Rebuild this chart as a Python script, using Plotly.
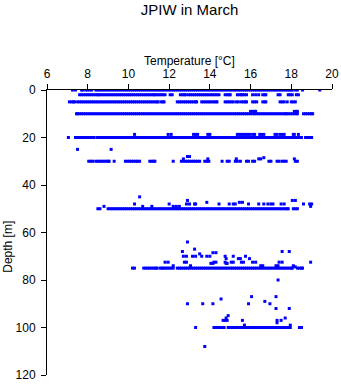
import plotly.graph_objects as go

# Temperatures (°C) observed along each standard depth level (m)
t_0m = [7.25, 7.4, 7.7, 7.75, 7.9, 8.0, 8.1, 8.2,
        8.4, 8.5, 8.6, 8.7, 8.8, 8.9, 9.0, 9.1, 9.2, 9.3, 9.4, 9.5, 9.6, 9.7, 9.8, 9.9,
        10.0, 10.1, 10.2, 10.3, 10.4, 10.5, 10.6, 10.7, 10.8, 10.9,
        11.0, 11.1, 11.2, 11.3, 11.4, 11.5, 11.6, 11.7, 11.8, 11.9,
        12.0, 12.1, 12.2, 12.3, 12.4, 12.5, 12.6, 12.7, 12.8, 12.9,
        13.0, 13.1, 13.2, 13.3, 13.4, 13.5, 13.6, 13.7, 13.8, 13.9,
        14.0, 14.1, 14.2, 14.3, 14.4, 14.5, 14.6, 14.7, 14.8, 14.9,
        15.0, 15.1, 15.2, 15.3, 15.4, 15.5, 15.6, 15.7, 15.8, 15.9,
        16.0, 16.1, 16.2, 16.3, 16.4, 16.5, 16.6, 16.7, 16.8, 16.9,
        17.0, 17.1, 17.2, 17.3, 17.4, 17.5, 17.6, 17.7, 17.8, 17.9,
        18.0, 18.05, 18.2, 18.3, 18.55, 19.4]

t_2m = [7.6, 7.7, 7.8, 7.9, 8.0, 8.1, 8.2, 8.3, 8.4, 8.5, 8.55,
        8.65, 8.75, 8.85, 8.95, 9.05, 9.15, 9.25, 9.35, 9.45, 9.55, 9.65, 9.75, 9.85, 9.95,
        10.05, 10.15, 10.25, 10.35, 10.45, 10.55, 10.65, 10.75, 10.85, 10.95,
        11.05, 11.15, 11.25, 11.3, 11.4, 11.5, 11.6, 11.7, 11.8, 12.05, 12.15,
        12.55, 12.65, 12.75, 12.8, 12.95, 13.05, 13.15, 13.25, 13.35, 13.45, 13.55, 13.65,
        13.75, 13.85, 13.95, 14.05, 14.15, 14.25, 14.35, 14.45, 14.75, 14.85, 14.95, 15.0,
        15.35, 15.45, 15.55, 15.6, 15.7, 15.8, 16.1, 16.25, 16.4, 16.6, 16.7, 16.75,
        17.35, 17.45, 17.85, 17.95, 18.05, 18.25, 18.35]

t_5m = [7.1, 7.2, 7.3, 7.35, 7.5, 7.6, 7.7, 7.8, 7.9,
        8.0, 8.1, 8.2, 8.3, 8.4, 8.5, 8.6, 8.7, 8.8, 8.9,
        9.0, 9.1, 9.2, 9.3, 9.4, 9.5, 9.6, 9.7, 9.8, 9.9,
        10.0, 10.1, 10.2, 10.3, 10.4, 10.5, 10.6, 10.7, 10.8, 10.9,
        11.0, 11.1, 11.2, 11.3, 11.4, 11.45, 11.6, 11.7, 11.75,
        12.4, 12.5, 12.6, 12.7, 12.8, 12.9, 13.0, 13.1, 13.2, 13.3, 13.35,
        13.6, 13.7, 13.8, 13.9, 14.0, 14.1, 14.2, 14.3, 14.35,
        14.75, 14.85, 14.95, 15.05, 15.15, 15.3, 15.4, 15.55, 15.65, 15.75, 15.8,
        16.1, 16.2, 16.3, 16.6, 16.7, 16.75, 17.45, 17.55, 17.65, 17.8,
        18.0, 18.1, 18.2]

t_10m = [7.45, 7.5, 7.6, 7.7, 7.8, 7.9,
         8.0, 8.1, 8.2, 8.3, 8.4, 8.5, 8.6, 8.7, 8.8, 8.9,
         9.0, 9.1, 9.2, 9.3, 9.4, 9.5, 9.6, 9.7, 9.8, 9.9,
         10.0, 10.1, 10.2, 10.3, 10.4, 10.5, 10.6, 10.7, 10.8, 10.9,
         11.0, 11.1, 11.2, 11.3, 11.4, 11.5, 11.6, 11.7, 11.8, 11.9,
         12.0, 12.1, 12.2, 12.3, 12.4, 12.5, 12.6, 12.7, 12.8, 12.9,
         13.0, 13.1, 13.2, 13.3, 13.4, 13.5, 13.6, 13.7, 13.8, 13.9,
         14.0, 14.1, 14.2, 14.3, 14.4, 14.5, 14.6, 14.7, 14.8, 14.9,
         15.0, 15.1, 15.2, 15.3, 15.4, 15.5, 15.6, 15.7, 15.8, 15.9,
         16.0, 16.1, 16.2, 16.3, 16.4, 16.5, 16.6, 16.7, 16.8, 16.9,
         17.0, 17.1, 17.2, 17.3, 17.4, 17.5, 17.6, 17.7, 17.75,
         17.85, 17.95, 18.05, 18.15, 18.25, 18.3, 18.6, 18.7, 18.8, 18.9, 19.0, 19.05]

t_20m = [7.05, 7.4, 7.5, 7.6, 7.7, 7.8, 7.9, 8.0, 8.1, 8.2, 8.3,
         8.45, 8.5, 8.6, 8.7, 8.8, 8.9,
         9.0, 9.1, 9.2, 9.3, 9.4, 9.5, 9.6, 9.7, 9.8, 9.9,
         10.0, 10.1, 10.2, 10.3, 10.4, 10.5, 10.6, 10.7, 10.8, 10.9,
         11.0, 11.1, 11.2, 11.3, 11.4, 11.5, 11.6, 11.7, 11.8, 11.9,
         12.0, 12.1, 12.2, 12.3, 12.4, 12.5, 12.6, 12.7, 12.8, 12.9,
         13.0, 13.1, 13.2, 13.3, 13.4, 13.5, 13.6, 13.7, 13.8, 13.9,
         14.0, 14.1, 14.2, 14.3, 14.4, 14.5, 14.6, 14.7, 14.8, 14.9,
         15.0, 15.1, 15.2, 15.3, 15.4, 15.5, 15.6, 15.7, 15.8, 15.9,
         16.0, 16.1, 16.2, 16.3, 16.4, 16.5, 16.6, 16.7, 16.8, 16.9,
         17.0, 17.1, 17.2, 17.3, 17.4, 17.5, 17.6, 17.7, 17.8, 17.9,
         18.0, 18.1, 18.2, 18.3, 18.4, 18.5, 18.7, 18.8, 18.9, 19.0]

t_25m = [7.5, 9.15]

t_30m = [8.05, 8.15, 8.25, 8.4, 8.5, 8.6, 8.7, 8.8, 8.9, 9.0, 9.05, 9.3,
         9.85, 9.95, 10.05, 10.15, 10.25, 10.35, 10.45, 10.55, 11.05, 11.15, 11.25, 11.3,
         12.2, 12.6, 12.7, 12.8, 12.9, 13.0, 13.1, 13.2, 13.3, 13.4, 13.5,
         13.75, 13.85, 13.95, 14.6, 14.85, 14.95, 15.25, 15.35, 15.5, 15.8, 15.9,
         16.1, 16.2, 16.9, 17.0, 17.3, 17.4, 17.55, 17.65, 17.75, 18.2, 18.3]

t_50m = [8.5, 8.6, 9.0, 9.1, 9.2, 9.3, 9.4, 9.5, 9.6, 9.7, 9.8, 9.9,
         10.0, 10.1, 10.2, 10.3, 10.4, 10.5, 10.6, 10.7, 10.8, 10.9,
         11.0, 11.1, 11.2, 11.3, 11.4, 11.5, 11.6, 11.7, 11.8, 11.9,
         12.0, 12.1, 12.2, 12.3, 12.4, 12.5, 12.6, 12.7, 12.8, 12.9,
         13.0, 13.1, 13.2, 13.3, 13.4, 13.5, 13.6, 13.7, 13.8, 13.9,
         14.0, 14.1, 14.2, 14.3, 14.4, 14.5, 14.6, 14.7, 14.8, 14.9,
         15.0, 15.1, 15.2, 15.3, 15.4, 15.5, 15.6, 15.7, 15.8, 15.9,
         16.0, 16.1, 16.2, 16.3, 16.4, 16.5, 16.6, 16.7, 16.8, 16.9,
         17.0, 17.1, 17.2, 17.3, 17.4, 17.5, 17.6, 17.7, 17.8, 17.85,
         18.1, 18.2, 18.3]

t_75m = [10.2, 10.3, 10.75, 10.85, 10.95, 11.05, 11.15, 11.25, 11.35, 11.4,
         11.55, 11.65, 11.7, 11.8, 11.9, 12.0, 12.1, 12.2,
         12.4, 12.5, 12.6, 12.7, 12.8, 12.9,
         13.0, 13.1, 13.2, 13.3, 13.4, 13.5, 13.6, 13.7, 13.8, 13.9,
         14.0, 14.1, 14.2, 14.3, 14.4, 14.5, 14.6, 14.7, 14.8, 14.9,
         15.0, 15.1, 15.2, 15.3, 15.4, 15.5, 15.6, 15.7, 15.8, 15.9,
         16.0, 16.1, 16.2, 16.3, 16.4, 16.5, 16.6, 16.7, 16.8, 16.9,
         17.0, 17.1, 17.2, 17.3, 17.4, 17.5, 17.6, 17.7,
         17.8, 17.9, 18.0, 18.05, 18.3, 18.4, 18.5, 18.55]

t_100m = [13.3, 14.2, 14.3, 14.4, 14.5, 14.6, 14.7,
          14.9, 15.0, 15.1, 15.2, 15.3, 15.4, 15.5, 15.6, 15.7, 15.8, 15.9,
          16.0, 16.1, 16.2, 16.25, 16.35, 16.45,
          16.55, 16.65, 16.75, 16.85, 16.95, 17.05, 17.15, 17.25, 17.3,
          17.35, 17.45, 17.55, 17.65, 17.75, 17.85, 17.95, 18.4, 18.5]

row_depths = [0, 2, 5, 10, 20, 25, 30, 50, 75, 100]
row_temps = [t_0m, t_2m, t_5m, t_10m, t_20m, t_25m, t_30m, t_50m, t_75m, t_100m]

# Scattered observations between the standard levels
extra_temps = [16.0, 16.1, 16.2, 16.25, 18.15, 18.25, 18.3,
               10.3, 11.95, 12.1, 13.2, 13.3, 13.4, 13.9, 14.0, 15.35, 15.45, 15.55, 15.65,
               15.75, 15.85, 15.95, 16.1, 16.2, 16.45, 16.55, 16.65, 17.2, 17.3, 17.45,
               17.55, 17.65, 18.1, 18.15, 18.35,
               12.7, 12.9, 13.0, 13.9, 15.3, 16.4, 16.5, 16.65, 18.15,
               8.8, 10.3, 10.55, 10.7, 11.15, 12.0, 12.2, 12.35, 12.5, 12.85, 13.0, 12.9,
               13.25, 13.3, 13.85, 14.45, 14.95, 15.15, 15.25, 15.45, 15.6, 15.9, 16.4,
               16.65, 16.85, 17.0, 17.1, 17.5, 17.65, 18.05, 18.2, 18.6, 18.9, 19.0, 18.95,
               12.9, 12.65, 13.25, 12.7, 12.85, 13.15, 13.3, 13.5, 13.6, 13.85, 14.0,
               14.15, 14.3, 14.75, 14.8, 15.15, 15.4, 15.5, 15.75, 15.95, 16.1, 16.25,
               11.8, 11.95, 12.2, 12.75, 12.85, 14.2, 14.3, 14.75, 14.85, 15.05, 15.15,
               15.55, 15.65, 16.5, 16.6, 17.25, 17.35, 17.4, 17.55, 17.55, 17.9, 18.1,
               18.2, 18.95, 13.05, 14.05, 14.15, 14.8,
               17.35,
               12.9, 13.65, 14.15, 14.55, 15.9, 16.05, 16.7, 16.95, 17.25, 17.25, 17.9,
               14.65, 14.75, 14.85, 14.8, 14.9, 15.6, 15.7, 17.3, 17.3, 17.5, 17.7,
               17.95, 13.75]
extra_depths = [9, 9, 9, 9, 9, 9, 9,
                18.7, 18.7, 18.7, 18.7, 18.7, 18.7, 18.7, 18.7, 18.7, 18.7, 18.7, 18.7,
                18.7, 18.7, 18.7, 18.7, 18.7, 18.7, 18.7, 18.7, 18.7, 18.7, 18.7,
                18.7, 18.7, 18.7, 18.7, 18.7,
                29, 28, 28, 29, 29, 29, 29, 28.5, 29,
                49, 48, 45, 49, 49, 48, 49, 49, 49, 48, 48, 46.5,
                48, 48, 47.3, 48, 48, 48, 48, 47.3, 47.3, 48, 48,
                48, 48, 48, 48, 48, 48, 46.5, 46.5, 48, 48, 48, 49,
                64, 68, 67, 70, 70, 70, 70, 69, 70, 70, 70,
                68.5, 68.5, 70, 71, 70, 71, 71, 70, 71, 72.5, 72.5,
                72.5, 72.5, 74, 72.5, 72.5, 72.5, 72.5, 72.5, 73, 72.5, 72.5,
                72.5, 72.5, 74, 74, 74, 74, 72.5, 72.5, 68, 68, 74,
                74.5, 72.5, 74, 73, 73, 73,
                80,
                90, 90, 90, 88, 90, 87, 89, 90, 87, 92, 92,
                97, 97, 97, 96, 95, 97, 99, 97, 98, 97, 96,
                99, 108]

temps = []
depths = []
for d, ts in zip(row_depths, row_temps):
    temps += ts
    depths += [d] * len(ts)
temps += extra_temps
depths += extra_depths

font = "Liberation Sans, Arial, sans-serif"

fig = go.Figure()
fig.add_trace(go.Scatter(
    x=temps, y=depths, mode="markers",
    marker=dict(symbol="square", size=3, color="#0000ff", line=dict(width=0)),
    showlegend=False, hoverinfo="x+y"))

fig.update_layout(
    width=341, height=384,
    margin=dict(l=47, r=9, t=90, b=9, autoexpand=False),
    paper_bgcolor="white", plot_bgcolor="white",
    font=dict(family=font, size=12, color="black"),
    title=dict(text="JPIW in March", x=0.5, xref="paper", y=1 - 10 / 384,
               yref="container", xanchor="center", yanchor="middle",
               automargin=False,
               font=dict(family=font, size=15, color="black")),
    xaxis=dict(side="top", range=[6, 20], dtick=2, tick0=6, showgrid=False,
               zeroline=False, showline=True, linecolor="black", linewidth=1,
               ticks="outside", ticklen=5, tickcolor="black", automargin=False,
               ticklabelstandoff=1,
               tickfont=dict(family=font, size=12)),
    yaxis=dict(range=[120, 0], dtick=20, tick0=0, showgrid=False,
               zeroline=False, showline=True, linecolor="black", linewidth=1,
               ticks="outside", ticklen=5, tickcolor="black", automargin=False,
               ticklabelstandoff=3,
               tickfont=dict(family=font, size=12)),
    annotations=[
        dict(text="Temperature [°C]", x=0.5, xref="paper", y=1, yref="paper",
             yshift=29, showarrow=False, xanchor="center", yanchor="middle",
             font=dict(family=font, size=12)),
        dict(text="Depth [m]", x=0, xref="paper", xshift=-39, y=0.45, yref="paper",
             showarrow=False, textangle=-90, xanchor="center", yanchor="middle",
             font=dict(family=font, size=12)),
    ],
)

fig.write_html("out.html")
